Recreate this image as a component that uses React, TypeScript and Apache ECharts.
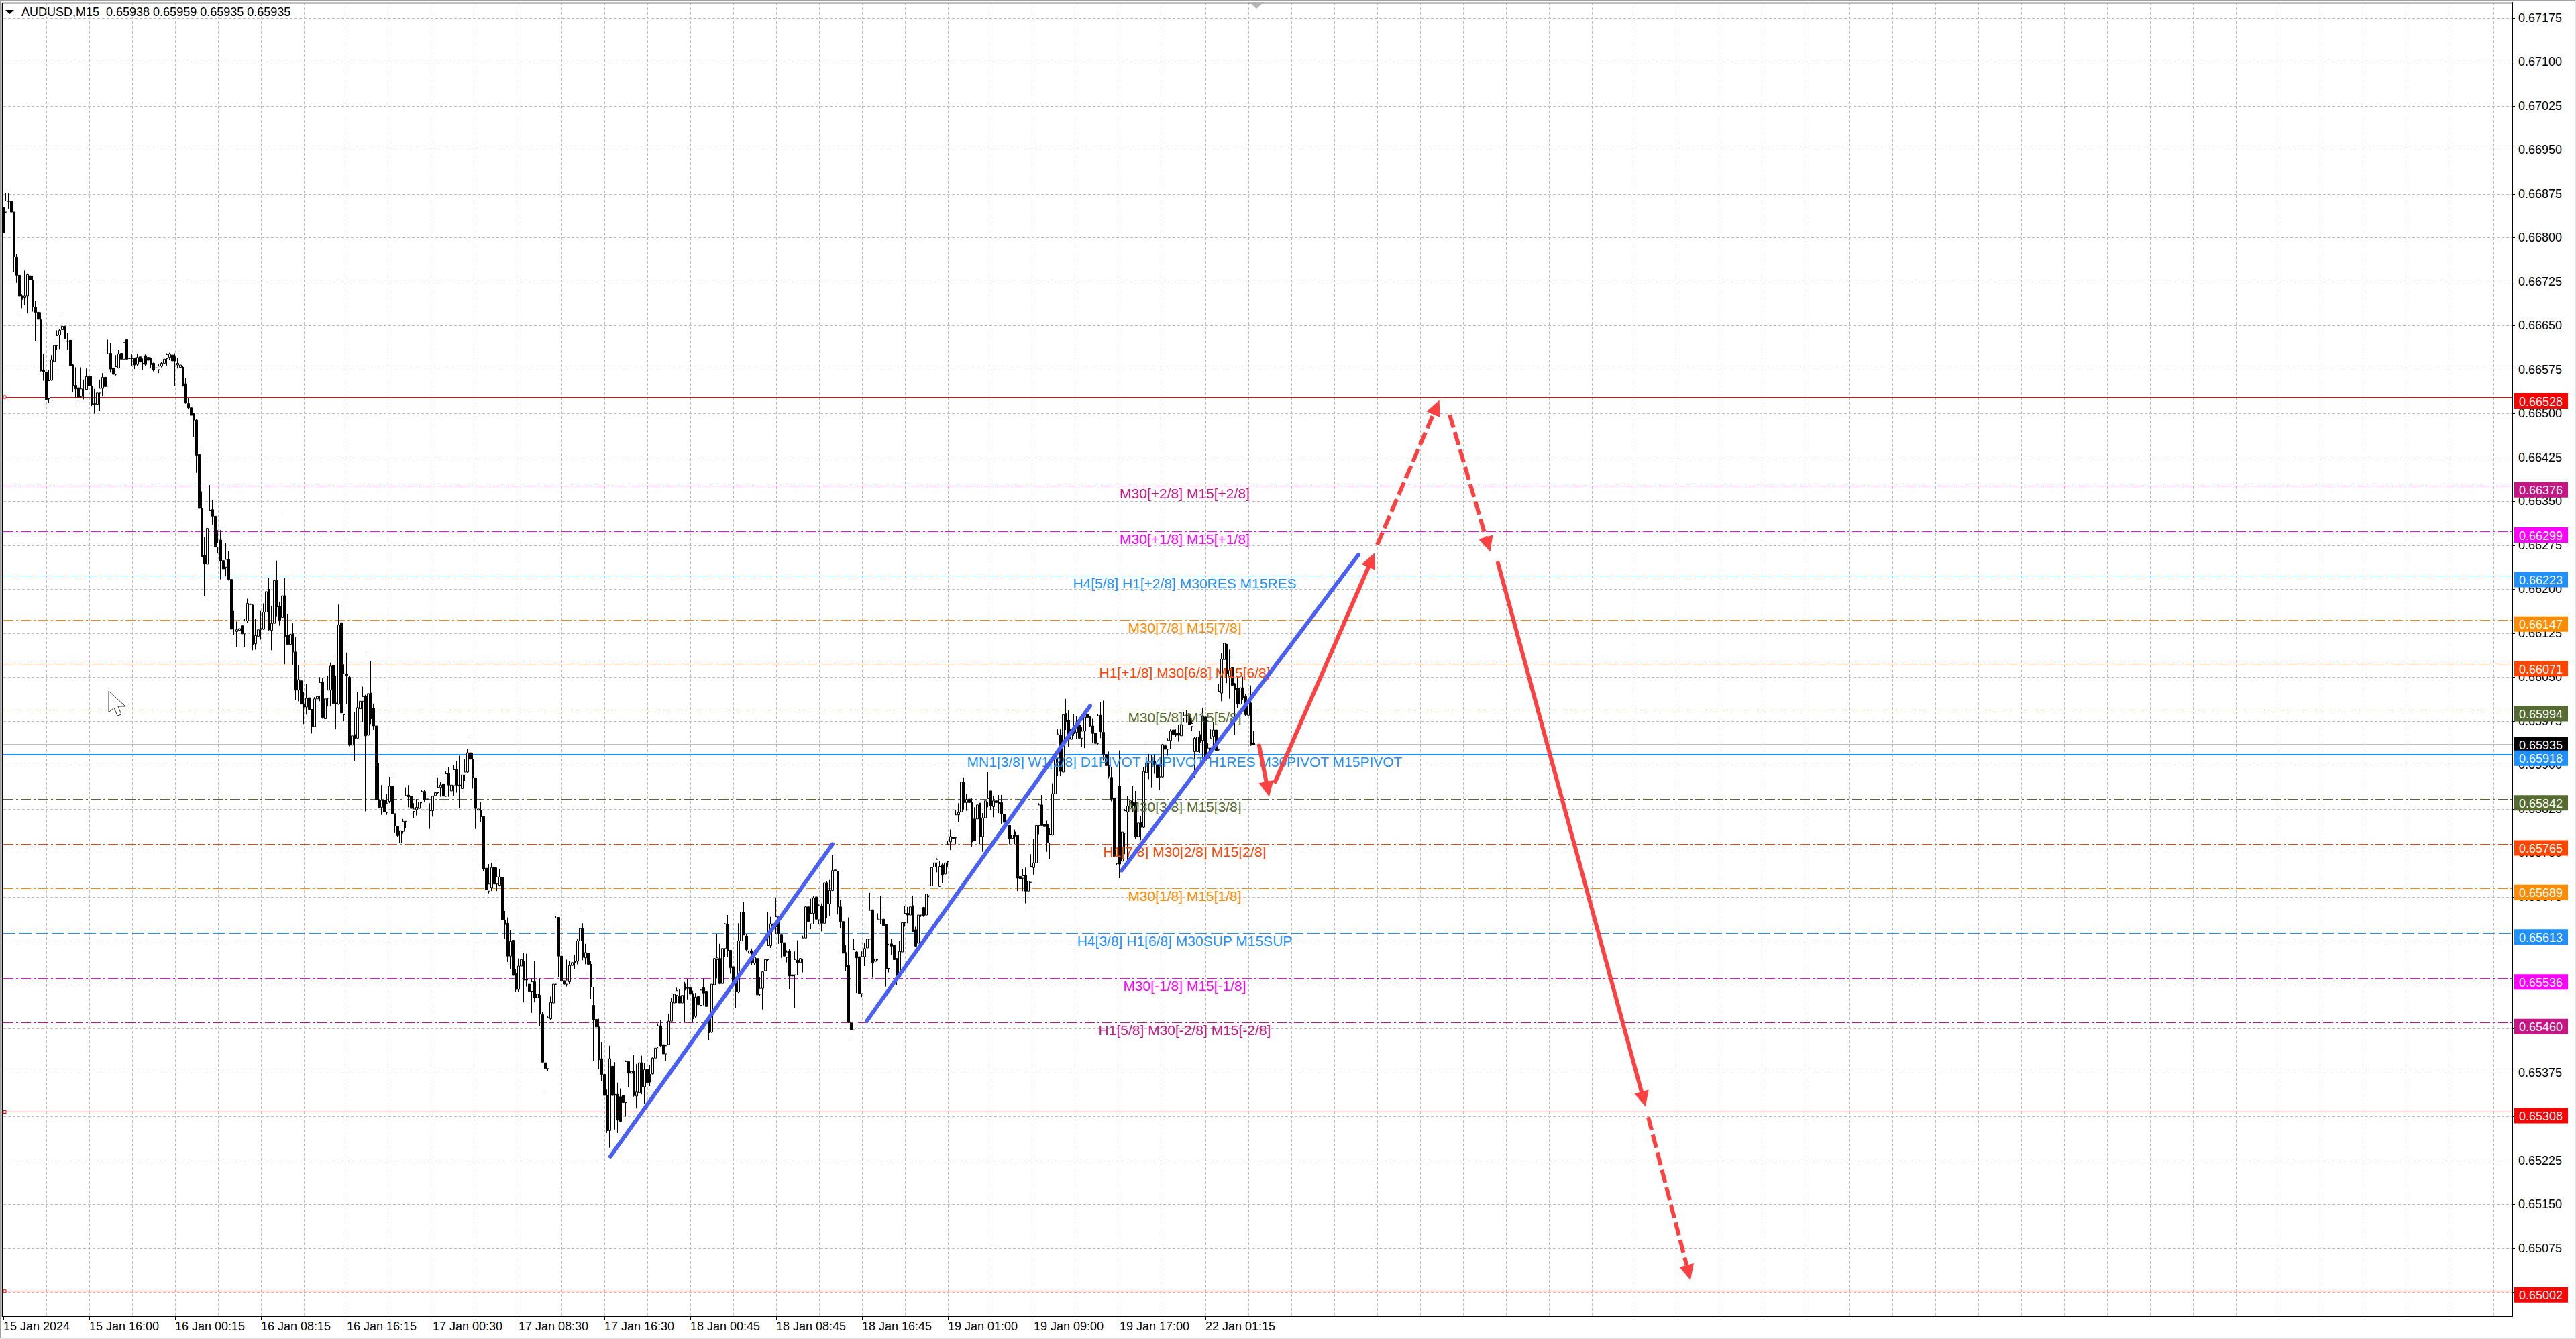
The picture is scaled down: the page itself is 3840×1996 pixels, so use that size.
import React, { useEffect, useRef } from "react";
import * as echarts from "echarts";

const FONT = '"Liberation Sans", Arial, sans-serif';

const titleText = "AUDUSD,M15  0.65938 0.65959 0.65935 0.65935";

const timeLabels = [
  "15 Jan 2024", "15 Jan 16:00", "16 Jan 00:15", "16 Jan 08:15", "16 Jan 16:15",
  "17 Jan 00:30", "17 Jan 08:30", "17 Jan 16:30", "18 Jan 00:45", "18 Jan 08:45",
  "18 Jan 16:45", "19 Jan 01:00", "19 Jan 09:00", "19 Jan 17:00", "22 Jan 01:15",
];

const priceTicks = [
  0.67175, 0.671, 0.67025, 0.6695, 0.66875, 0.668, 0.66725, 0.6665, 0.66575, 0.665,
  0.66425, 0.6635, 0.66275, 0.662, 0.66125, 0.6605, 0.65975, 0.659, 0.65825, 0.6575,
  0.65675, 0.656, 0.65525, 0.6545, 0.65375, 0.653, 0.65225, 0.6515, 0.65075, 0.65,
];

// [open, high, low, close] in 1e-5 price units
const candles: number[][] = [
  [66852,66855,66808,66808],[66844,66877,66842,66863],[66862,66876,66849,66862],[66862,66873,66826,66844],
  [66844,66844,66742,66768],[66767,66772,66723,66736],[66736,66749,66671,66701],[66701,66703,66680,66695],
  [66698,66744,66685,66701],[66701,66739,66671,66737],[66735,66736,66700,66728],[66727,66735,66674,66682],
  [66682,66693,66624,66673],[66673,66691,66656,66661],[66660,66673,66572,66573],[66574,66602,66556,66571],
  [66571,66594,66518,66524],[66525,66574,66518,66556],[66557,66600,66556,66592],[66589,66624,66570,66616],
  [66616,66642,66609,66633],[66634,66644,66610,66642],[66643,66667,66629,66649],[66649,66649,66628,66628],
  [66624,66638,66609,66623],[66625,66638,66577,66582],[66583,66585,66536,66548],[66548,66579,66526,66542],
  [66544,66555,66516,66528],[66529,66579,66527,66542],[66540,66558,66524,66540],[66541,66577,66540,66563],
  [66563,66579,66527,66547],[66547,66564,66513,66515],[66517,66542,66500,66516],[66516,66548,66501,66535],
  [66535,66558,66505,66543],[66543,66569,66529,66562],[66562,66565,66531,66546],[66547,66626,66546,66602],
  [66603,66620,66570,66576],[66578,66600,66560,66567],[66567,66600,66565,66580],[66578,66609,66577,66602],
  [66603,66610,66580,66593],[66593,66621,66593,66621],[66626,66626,66593,66593],[66594,66603,66577,66594],
  [66594,66601,66582,66595],[66594,66595,66576,66583],[66584,66602,66582,66596],[66597,66600,66580,66588],
  [66586,66594,66574,66585],[66599,66601,66582,66584],[66596,66599,66589,66591],[66594,66596,66577,66584],
  [66586,66587,66572,66575],[66578,66584,66565,66578],[66575,66584,66569,66581],[66581,66588,66579,66586],
  [66586,66599,66584,66593],[66594,66603,66582,66601],[66596,66604,66592,66602],[66600,66603,66580,66590],
  [66597,66603,66547,66590],[66583,66595,66577,66586],[66579,66607,66563,66583],[66579,66582,66546,66548],
  [66551,66560,66517,66518],[66517,66526,66508,66510],[66510,66524,66494,66497],[66500,66500,66460,66489],
  [66489,66490,66399,66429],[66430,66441,66336,66338],[66338,66367,66255,66256],[66258,66289,66188,66244],
  [66243,66305,66192,66304],[66303,66378,66303,66335],[66336,66353,66310,66325],[66325,66326,66246,66272],
  [66272,66301,66262,66279],[66284,66301,66217,66248],[66249,66251,66209,66235],[66238,66279,66222,66251],
  [66251,66265,66215,66217],[66217,66217,66109,66132],[66129,66163,66122,66129],[66128,66145,66102,66131],
  [66130,66159,66111,66133],[66138,66140,66113,66124],[66124,66149,66102,66146],[66146,66184,66143,66176],
  [66175,66181,66149,66174],[66173,66174,66096,66106],[66107,66149,66097,66121],[66120,66147,66100,66131],
  [66131,66163,66114,66133],[66132,66176,66131,66161],[66161,66219,66158,66196],[66200,66219,66129,66131],
  [66130,66171,66096,66142],[66142,66224,66141,66215],[66215,66249,66154,66170],[66171,66179,66138,66147],
  [66152,66327,66147,66189],[66189,66219,66072,66120],[66122,66158,66106,66106],[66106,66149,66090,66123],
  [66124,66142,66070,66093],[66093,66118,66011,66028],[66028,66070,66009,66046],[66044,66045,65966,66004],
  [66004,66025,65970,65999],[65999,66038,65986,66014],[66015,66018,65982,65995],[65995,65995,65954,65966],
  [65966,66016,65966,66013],[66013,66029,65999,66017],[66018,66050,66009,66041],[66042,66049,65979,65981],
  [65979,66047,65976,66013],[66014,66052,66000,66028],[66028,66075,66000,66069],[66070,66084,65986,66005],
  [66006,66052,65961,66005],[66004,66174,66003,66139],[66143,66149,65968,65989],[65986,66072,65975,66056],
  [66055,66092,66004,66053],[66050,66052,65932,65934],[65934,65966,65903,65950],[65952,65991,65907,65945],
  [65946,66025,65945,65998],[65996,66020,65961,66009],[66009,66034,65973,66017],[66018,66020,65821,65950],
  [65951,66090,65948,66022],[66023,66077,65970,65979],[65997,66005,65960,65967],[65967,65967,65838,65841],
  [65840,65903,65826,65828],[65828,65866,65815,65840],[65840,65840,65814,65820],[65819,65851,65815,65835],
  [65838,65880,65835,65864],[65864,65886,65814,65817],[65817,65817,65785,65796],[65795,65796,65778,65780],
  [65767,65801,65760,65788],[65787,65808,65783,65804],[65804,65862,65792,65848],[65849,65866,65828,65846],
  [65847,65848,65819,65826],[65821,65835,65810,65825],[65824,65842,65814,65828],[65826,65851,65815,65837],
  [65837,65857,65835,65855],[65855,65857,65837,65841],[65842,65844,65838,65842],[65823,65835,65791,65822],
  [65822,65848,65812,65847],[65848,65873,65835,65853],[65853,65879,65851,65862],[65862,65871,65846,65866],
  [65868,65878,65835,65847],[65847,65889,65846,65885],[65886,65896,65846,65866],[65856,65878,65853,65866],
  [65865,65900,65848,65892],[65892,65907,65853,65866],[65866,65916,65826,65865],[65860,65916,65857,65883],
  [65883,65910,65873,65888],[65888,65928,65887,65921],[65921,65945,65907,65910],[65910,65921,65860,65878],
  [65878,65879,65791,65826],[65823,65852,65805,65825],[65823,65837,65803,65812],[65812,65812,65719,65723],
  [65724,65749,65673,65687],[65685,65731,65681,65697],[65691,65733,65685,65725],[65726,65735,65693,65697],
  [65697,65725,65685,65709],[65695,65723,65693,65709],[65708,65709,65623,65636],[65635,65651,65604,65628],
  [65630,65640,65564,65574],[65574,65618,65552,65599],[65601,65618,65515,65541],[65544,65552,65513,65517],
  [65517,65570,65513,65557],[65557,65586,65536,65568],[65565,65580,65495,65533],[65534,65578,65522,65533],
  [65526,65536,65495,65514],[65514,65536,65477,65530],[65530,65566,65495,65503],[65503,65536,65490,65509],
  [65507,65536,65455,65475],[65474,65479,65393,65393],[65392,65392,65345,65382],[65382,65471,65378,65469],
  [65467,65505,65465,65495],[65494,65542,65493,65526],[65526,65643,65525,65639],[65640,65640,65538,65574],
  [65574,65574,65526,65532],[65532,65554,65501,65526],[65526,65568,65522,65533],[65530,65566,65526,65558],
  [65558,65574,65532,65563],[65565,65576,65552,65563],[65565,65604,65560,65600],[65600,65653,65598,65621],
  [65621,65630,65567,65572],[65571,65595,65560,65580],[65579,65582,65542,65560],[65560,65566,65501,65521],
  [65490,65521,65395,65465],[65466,65495,65415,65453],[65453,65467,65381,65397],[65399,65427,65360,65372],
  [65372,65372,65318,65336],[65336,65346,65272,65276],[65276,65421,65247,65399],[65386,65403,65276,65336],
  [65338,65393,65278,65337],[65338,65358,65272,65294],[65334,65348,65291,65292],[65336,65358,65314,65324],
  [65324,65396,65300,65394],[65394,65394,65350,65374],[65374,65415,65336,65377],[65378,65405,65334,65336],
  [65335,65390,65314,65342],[65341,65413,65338,65392],[65392,65404,65338,65351],[65351,65392,65322,65380],
  [65381,65405,65344,65358],[65372,65388,65352,65359],[65373,65401,65372,65400],[65400,65423,65398,65417],
  [65419,65459,65417,65455],[65455,65465,65419,65421],[65423,65425,65397,65407],[65407,65423,65395,65421],
  [65423,65475,65422,65463],[65463,65502,65463,65496],[65494,65515,65492,65509],[65507,65520,65494,65515],
  [65505,65517,65494,65494],[65494,65509,65492,65507],[65526,65530,65461,65516],[65520,65535,65500,65519],
  [65520,65533,65488,65509],[65510,65515,65461,65467],[65471,65511,65469,65504],[65505,65511,65481,65491],
  [65490,65518,65489,65516],[65520,65536,65490,65511],[65514,65533,65486,65488],[65467,65469,65431,65443],
  [65444,65526,65443,65526],[65525,65582,65514,65570],[65568,65612,65536,65571],[65570,65595,65526,65527],
  [65527,65612,65525,65587],[65587,65630,65572,65629],[65628,65644,65572,65584],[65584,65584,65544,65554],
  [65556,65567,65515,65525],[65527,65538,65485,65513],[65513,65630,65511,65600],[65600,65649,65577,65649],
  [65649,65667,65610,65610],[65608,65612,65582,65585],[65579,65587,65567,65583],[65583,65587,65559,65563],
  [65562,65584,65559,65572],[65570,65582,65508,65508],[65509,65538,65506,65519],[65519,65549,65483,65547],
  [65549,65568,65536,65568],[65568,65649,65566,65592],[65592,65641,65588,65629],[65626,65660,65605,65629],
  [65624,65673,65612,65641],[65641,65643,65595,65612],[65610,65610,65571,65597],[65597,65597,65555,65574],
  [65572,65584,65563,65581],[65583,65586,65518,65540],[65542,65572,65515,65540],[65542,65582,65486,65568],
  [65567,65601,65542,65563],[65563,65582,65523,65570],[65569,65609,65546,65605],[65605,65660,65605,65658],
  [65658,65675,65631,65633],[65629,65672,65620,65647],[65647,65676,65628,65673],[65675,65676,65620,65637],
  [65636,65662,65628,65660],[65659,65664,65616,65630],[65630,65704,65628,65699],[65699,65702,65639,65664],
  [65663,65704,65643,65686],[65686,65746,65685,65720],[65721,65735,65709,65720],[65718,65718,65645,65658],
  [65658,65670,65621,65633],[65633,65633,65574,65579],[65580,65593,65549,65556],[65558,65640,65460,65461],
  [65460,65537,65436,65448],[65448,65603,65447,65585],[65581,65582,65511,65571],[65573,65631,65505,65510],
  [65510,65582,65504,65573],[65573,65597,65557,65587],[65588,65624,65568,65603],[65603,65682,65603,65652],
  [65653,65653,65537,65562],[65565,65580,65533,65569],[65569,65647,65567,65637],[65636,65677,65628,65636],
  [65637,65653,65605,65626],[65628,65628,65522,65552],[65553,65595,65546,65593],[65595,65603,65576,65591],
  [65592,65602,65561,65568],[65570,65570,65525,65538],[65538,65600,65536,65582],[65581,65637,65574,65631],
  [65631,65660,65624,65647],[65647,65658,65630,65644],[65644,65668,65624,65658],[65660,65677,65615,65616],
  [65619,65624,65591,65591],[65596,65656,65595,65644],[65644,65656,65641,65656],[65657,65658,65641,65643],
  [65644,65686,65637,65680],[65677,65694,65675,65694],[65694,65725,65694,65725],[65726,65738,65717,65733],
  [65733,65741,65717,65739],[65693,65736,65692,65727],[65730,65732,65698,65712],[65714,65738,65704,65733],
  [65735,65771,65726,65765],[65769,65790,65755,65778],[65777,65788,65765,65775],[65776,65824,65765,65815],
  [65815,65835,65803,65819],[65820,65874,65820,65871],[65871,65879,65824,65836],[65836,65851,65822,65841],
  [65842,65860,65811,65836],[65836,65843,65761,65769],[65808,65828,65770,65771],[65808,65836,65780,65832],
  [65835,65835,65765,65778],[65778,65818,65752,65810],[65810,65849,65808,65839],[65837,65888,65828,65843],
  [65856,65856,65824,65830],[65829,65848,65811,65839],[65839,65849,65824,65836],[65836,65849,65818,65834],
  [65836,65849,65800,65817],[65816,65817,65799,65802],[65801,65802,65794,65797],[65797,65797,65765,65774],
  [65775,65786,65759,65781],[65786,65790,65765,65779],[65780,65780,65685,65707],[65710,65733,65690,65706],
  [65707,65723,65685,65711],[65712,65725,65664,65685],[65685,65708,65650,65702],[65700,65748,65698,65727],
  [65725,65774,65713,65733],[65733,65803,65731,65797],[65797,65835,65782,65832],[65832,65849,65797,65797],
  [65799,65816,65788,65795],[65798,65805,65752,65768],[65767,65792,65740,65782],[65781,65869,65780,65851],
  [65851,65925,65849,65912],[65912,65961,65881,65953],[65951,65961,65881,65889],[65888,65994,65887,65986],
  [65988,66013,65960,65974],[65976,65994,65931,65944],[65944,65969,65920,65961],[65961,65987,65950,65954],
  [65956,65984,65945,65969],[65969,65977,65920,65946],[65946,65965,65931,65958],[65958,65988,65929,65982],
  [65987,65994,65977,65981],[65982,65984,65965,65967],[65967,65979,65937,65954],[65955,65958,65927,65937],
  [65937,65987,65935,65984],[65985,66007,65946,65957],[65956,66010,65908,65918],[65918,65944,65879,65899],
  [65899,65923,65877,65881],[65879,65897,65838,65842],[65844,65856,65740,65744],[65732,65844,65730,65844],
  [65864,65925,65707,65731],[65736,65797,65729,65786],[65784,65825,65748,65822],[65820,65847,65736,65830],
  [65826,65875,65810,65839],[65837,65864,65820,65830],[65836,65856,65774,65778],[65778,65807,65770,65801],
  [65802,65813,65772,65794],[65794,65897,65793,65889],[65887,65934,65881,65904],[65903,65919,65876,65906],
  [65905,65917,65862,65906],[65907,65918,65885,65900],[65901,65919,65879,65879],[65879,65902,65857,65880],
  [65880,65936,65879,65935],[65933,65946,65915,65927],[65927,65946,65916,65942],[65942,65961,65927,65958],
  [65960,65975,65942,65952],[65954,65961,65948,65951],[65955,65969,65940,65951],[65950,65971,65946,65969],
  [65980,65990,65974,65984],[65985,65994,65972,65985],[65986,65992,65964,65969],[65966,65979,65958,65971],
  [65923,65948,65879,65946],[65923,65958,65912,65948],[65952,65958,65921,65939],[65942,65998,65910,65984],
  [65982,65990,65910,65912],[65912,65937,65910,65929],[65929,65961,65916,65946],[65949,65973,65931,65960],
  [65960,65977,65914,65925],[65926,66038,65925,66026],[66023,66091,66009,66081],[66080,66135,66075,66108],
  [66106,66107,66040,66057],[66051,66097,66013,66062],[66066,66086,66011,66036],[66039,66040,65952,66029],
  [66031,66051,65998,66004],[66004,66040,66000,66032],[66032,66051,66011,66015],[66017,66021,65984,65986],
  [65985,66038,65981,66011],[66006,66036,65933,65934],[65938,65959,65935,65935],
];

const levelPrices = [66528, 66376, 66299, 66223, 66147, 66071, 65994, 65918, 65842, 65765, 65689, 65613, 65536, 65460, 65308, 65002];
const levelColors = ["#FF0000", "#C71585", "#FF00FF", "#1E90FF", "#FF8C00", "#FF4500", "#556B2F", "#1E90FF", "#556B2F", "#FF4500", "#FF8C00", "#1E90FF", "#FF00FF", "#C71585", "#FF0000", "#FF0000"];
const levelKinds = ["solid", "dashdot", "dashdot", "dashed", "dashdot", "dashdot", "dashdot", "thick", "dashdot", "dashdot", "dashdot", "dashed", "dashdot", "dashdot", "solid", "solid"];
const levelTexts = [
  "", "M30[+2/8] M15[+2/8]", "M30[+1/8] M15[+1/8]", "H4[5/8] H1[+2/8] M30RES M15RES",
  "M30[7/8] M15[7/8]", "H1[+1/8] M30[6/8] M15[6/8]", "M30[5/8] M15[5/8]",
  "MN1[3/8] W1[2/8] D1PIVOT H4PIVOT H1RES M30PIVOT M15PIVOT", "M30[3/8] M15[3/8]",
  "H1[7/8] M30[2/8] M15[2/8]", "M30[1/8] M15[1/8]", "H4[3/8] H1[6/8] M30SUP M15SUP",
  "M30[-1/8] M15[-1/8]", "H1[5/8] M30[-2/8] M15[-2/8]", "", "",
];
const currentPrice = 65935;

// bar position and price (1e-5) of both ends
const trendLines = [
  [226.25, 65232, 309, 65765],
  [321.75, 65463, 405, 66001],
  [416.75, 65720, 505, 66259],
];
const solidArrows = [
  [468, 65933, 471.75, 65846],
  [474, 65872, 511, 66262],
  [557, 66245, 612, 65317],
];
const dashedArrows = [
  [512, 66276, 535.15, 66523],
  [539, 66498, 554.1, 66264],
  [613, 65299, 628.75, 65021],
];

const BAR_SLOTS = 936;
const LEFT = 5;
const RIGHT = 3745;
const TOP = 4;
const BOTTOM = 1962;
const toPrice = (p: number) => p / 100000;
const categories = Array.from({ length: BAR_SLOTS }, (_, i) => (i % 32 === 0 ? timeLabels[i / 32] ?? "" : ""));
const labelBar = (i: number) => i % 32 === 0 && i <= 448;

function segments(rows: number[][]) {
  return rows.map((r) => [r[0], toPrice(r[1]), r[2], toPrice(r[3])]);
}

function lineItem(api: any, stroke: string, width: number, dash: any, cap: string) {
  const a = api.coord([api.value(0), api.value(1)]);
  const b = api.coord([api.value(2), api.value(3)]);
  return {
    a,
    b,
    el: {
      type: "line",
      shape: { x1: a[0], y1: a[1], x2: b[0], y2: b[1] },
      style: { stroke, lineWidth: width, lineCap: cap, lineDash: dash || undefined, fill: null },
    },
  };
}

function arrowItem(api: any, dash: any) {
  const { a, b } = lineItem(api, "#FF4040", 6, dash, "round");
  const dx = b[0] - a[0];
  const dy = b[1] - a[1];
  const len = Math.hypot(dx, dy) || 1;
  const ux = dx / len;
  const uy = dy / len;
  const hl = 23;
  const hw = 11;
  const bx = b[0] - ux * hl;
  const by = b[1] - uy * hl;
  return {
    type: "group",
    children: [
      {
        type: "line",
        shape: { x1: a[0], y1: a[1], x2: bx, y2: by },
        style: { stroke: "#FF4040", lineWidth: 6, lineCap: dash ? "butt" : "round", lineDash: dash || undefined },
      },
      {
        type: "polygon",
        shape: { points: [[b[0], b[1]], [bx - uy * hw, by + ux * hw], [bx + uy * hw, by - ux * hw]] },
        style: { fill: "#FF4040" },
      },
    ],
  };
}

const priceFont = `18px ${FONT}`;

export default function App() {
  const ref = useRef<HTMLDivElement>(null);
  useEffect(() => {
    if (!ref.current) return;
    const chart = echarts.init(ref.current, undefined, { renderer: "svg" });
    const levelRows: any[] = levelPrices.map((p, i) => [0, toPrice(p), levelColors[i], levelKinds[i]]);
    levelRows.push([0, toPrice(currentPrice), "#C0C0C0", "current"]);
    const labelRows = levelPrices
      .map((p, i) => [440.25, toPrice(p), levelTexts[i], levelColors[i]])
      .filter((r) => r[2] !== "");
    const tagRows: any[] = [
      ...levelPrices.filter((p) => p !== 65918).map((p) => [0, toPrice(p), levelColors[levelPrices.indexOf(p)], 5.5]),
      [0, toPrice(currentPrice), "#000000", 0],
      [0, toPrice(65918), "#1E90FF", 5.5],
    ];
    const anchorRows = [66528, 65308, 65002].map((p) => [0.5, toPrice(p)]);

    chart.setOption({
      animation: false,
      backgroundColor: "#FFFFFF",
      textStyle: { fontFamily: FONT },
      grid: { left: LEFT, top: TOP, width: RIGHT - LEFT, height: BOTTOM - TOP, containLabel: false },
      xAxis: [
        {
          type: "category",
          data: categories,
          boundaryGap: false,
          axisLine: { show: true, onZero: false, lineStyle: { color: "#000", width: 2 } },
          axisTick: { show: true, length: 5, interval: labelBar, lineStyle: { color: "#000", width: 1 } },
          axisLabel: {
            show: true,
            interval: labelBar,
            align: "left",
            margin: 6,
            color: "#000",
            fontSize: 18,
            fontFamily: FONT,
          },
          splitLine: {
            show: true,
            interval: (i: number) => i % 16 === 0 && i > 0,
            lineStyle: { color: "#C0C0C0", type: [4, 3], width: 1 },
          },
        },
        { type: "value", min: 0, max: BAR_SLOTS - 1, show: false, splitLine: { show: false } },
      ],
      yAxis: {
        type: "value",
        position: "right",
        min: 0.6495932,
        max: 0.6720133,
        scale: true,
        axisLine: { show: true, onZero: false, lineStyle: { color: "#000", width: 2 } },
        axisTick: { show: true, length: 4, customValues: priceTicks, lineStyle: { color: "#000", width: 1 } },
        axisLabel: {
          show: true,
          customValues: priceTicks,
          margin: 9,
          padding: [2, 0, 0, 0],
          color: "#000",
          fontSize: 18,
          fontFamily: FONT,
          formatter: (v: number) => v.toFixed(5),
        },
        splitLine: { show: true, lineStyle: { color: "#C0C0C0", type: [4, 3], width: 1 } },
      },
      series: [
        {
          type: "custom",
          name: "levels",
          xAxisIndex: 1,
          yAxisIndex: 0,
          z: 1,
          silent: true,
          data: levelRows,
          encode: { x: 0, y: 1 },
          dimensions: ["x", "y", { name: "c", type: "ordinal" }, { name: "k", type: "ordinal" }],
          renderItem: (params: any, api: any) => {
            const row = levelRows[params.dataIndex];
            const a = api.coord([0, row[1]]);
            const b = api.coord([BAR_SLOTS - 1, row[1]]);
            const kind = row[3];
            const dash = kind === "dashdot" ? [15, 4, 3, 4] : kind === "dashed" ? [18, 6] : undefined;
            const width = kind === "thick" ? 2 : 1;
            const y = kind === "thick" ? Math.round(a[1]) : Math.floor(a[1]) + 0.5;
            return {
              type: "line",
              shape: { x1: a[0], y1: y, x2: b[0], y2: y },
              style: { stroke: row[2], lineWidth: width, lineDash: dash },
            };
          },
        },
        {
          type: "candlestick",
          xAxisIndex: 0,
          yAxisIndex: 0,
          barWidth: 3,
          large: false,
          progressive: 0,
          clip: false,
          z: 2,
          silent: true,
          itemStyle: {
            color: "#FFFFFF",
            color0: "#000000",
            borderColor: "#000000",
            borderColor0: "#000000",
            borderWidth: 1,
          },
          data: candles.map((c) => [toPrice(c[0]), toPrice(c[3]), toPrice(c[2]), toPrice(c[1])]),
        },
        {
          type: "custom",
          name: "level labels",
          xAxisIndex: 1,
          yAxisIndex: 0,
          z: 3,
          silent: true,
          data: labelRows,
          encode: { x: 0, y: 1 },
          dimensions: ["x", "y", { name: "t", type: "ordinal" }, { name: "c", type: "ordinal" }],
          renderItem: (params: any, api: any) => {
            const row = labelRows[params.dataIndex];
            const pt = api.coord([row[0], row[1]]);
            return {
              type: "text",
              x: pt[0],
              y: pt[1] + 11,
              style: {
                text: row[2],
                fill: row[3],
                font: `21px ${FONT}`,
                textAlign: "center",
                textVerticalAlign: "middle",
              },
            };
          },
        },
        {
          type: "custom",
          name: "trend lines",
          xAxisIndex: 1,
          yAxisIndex: 0,
          z: 4,
          silent: true,
          data: segments(trendLines),
          encode: { x: [0, 2], y: [1, 3] },
          renderItem: (_p: any, api: any) => lineItem(api, "#4A60F5", 6, null, "round").el,
        },
        {
          type: "custom",
          name: "solid arrows",
          xAxisIndex: 1,
          yAxisIndex: 0,
          z: 4,
          silent: true,
          data: segments(solidArrows),
          encode: { x: [0, 2], y: [1, 3] },
          renderItem: (_p: any, api: any) => arrowItem(api, null),
        },
        {
          type: "custom",
          name: "dashed arrows",
          xAxisIndex: 1,
          yAxisIndex: 0,
          z: 4,
          silent: true,
          data: segments(dashedArrows),
          encode: { x: [0, 2], y: [1, 3] },
          renderItem: (_p: any, api: any) => arrowItem(api, [20, 7]),
        },
        {
          type: "custom",
          name: "anchors",
          xAxisIndex: 1,
          yAxisIndex: 0,
          z: 4,
          silent: true,
          data: anchorRows,
          encode: { x: 0, y: 1 },
          renderItem: (_p: any, api: any) => {
            const pt = api.coord([api.value(0), api.value(1)]);
            return {
              type: "rect",
              shape: { x: pt[0] - 2, y: pt[1] - 2, width: 4, height: 4 },
              style: { fill: "#FFFFFF", stroke: "#FF0000", lineWidth: 1 },
            };
          },
        },
        {
          type: "custom",
          name: "price tags",
          xAxisIndex: 1,
          yAxisIndex: 0,
          z: 6,
          silent: true,
          clip: false,
          data: tagRows,
          encode: { x: 0, y: 1 },
          dimensions: ["x", "y", { name: "c", type: "ordinal" }, "o"],
          renderItem: (params: any, api: any) => {
            const row = tagRows[params.dataIndex];
            const pt = api.coord([row[0], row[1]]);
            const cy = pt[1] + row[3];
            return {
              type: "group",
              children: [
                {
                  type: "rect",
                  shape: { x: 3748, y: cy - 11.5, width: 80, height: 23 },
                  style: { fill: row[2] },
                },
                {
                  type: "text",
                  x: 3755,
                  y: cy + 1,
                  style: {
                    text: (row[1] as number).toFixed(5),
                    fill: "#FFFFFF",
                    font: priceFont,
                    textAlign: "left",
                    textVerticalAlign: "middle",
                  },
                },
              ],
            };
          },
        },
      ],
      graphic: [
        { type: "rect", z: 0, shape: { x: 0, y: 0, width: 3840, height: 2 }, style: { fill: "#A0A0A0" } },
        { type: "rect", z: 0, shape: { x: 0, y: 0, width: 1.5, height: 1996 }, style: { fill: "#A0A0A0" } },
        { type: "rect", z: 0, shape: { x: 3838, y: 0, width: 2, height: 1996 }, style: { fill: "#E4E4E4" } },
        { type: "rect", z: 0, shape: { x: 0, y: 1994, width: 3840, height: 2 }, style: { fill: "#E4E4E4" } },
        { type: "line", z: 10, shape: { x1: 3.5, y1: 4.5, x2: 3746, y2: 4.5 }, style: { stroke: "#000", lineWidth: 1.5 } },
        { type: "line", z: 10, shape: { x1: 3.5, y1: 4, x2: 3.5, y2: 1963 }, style: { stroke: "#000", lineWidth: 1.5 } },
        { type: "line", z: 10, shape: { x1: 3, y1: 1962, x2: 6, y2: 1962 }, style: { stroke: "#000", lineWidth: 2 } },
        { type: "polygon", z: 10, shape: { points: [[8, 15], [21, 15], [14.5, 21]] }, style: { fill: "#000" } },
        {
          type: "text",
          z: 10,
          x: 32,
          y: 18,
          style: { text: titleText, fill: "#000", font: priceFont, textVerticalAlign: "middle" },
        },
        { type: "polygon", z: 10, shape: { points: [[1862, 3], [1884, 3], [1873, 13]] }, style: { fill: "#B4B4B4" } },
        {
          type: "polygon",
          z: 10,
          shape: { points: [[162, 1030], [162, 1062], [170, 1055], [175, 1067], [181, 1065], [176, 1053], [187, 1053]] },
          style: { fill: "#FFFFFF", stroke: "#303030", lineWidth: 1 },
        },
      ],
    });
    return () => chart.dispose();
  }, []);
  return <div ref={ref} style={{ position: "absolute", left: 0, top: 0, width: 3840, height: 1996 }} />;
}
